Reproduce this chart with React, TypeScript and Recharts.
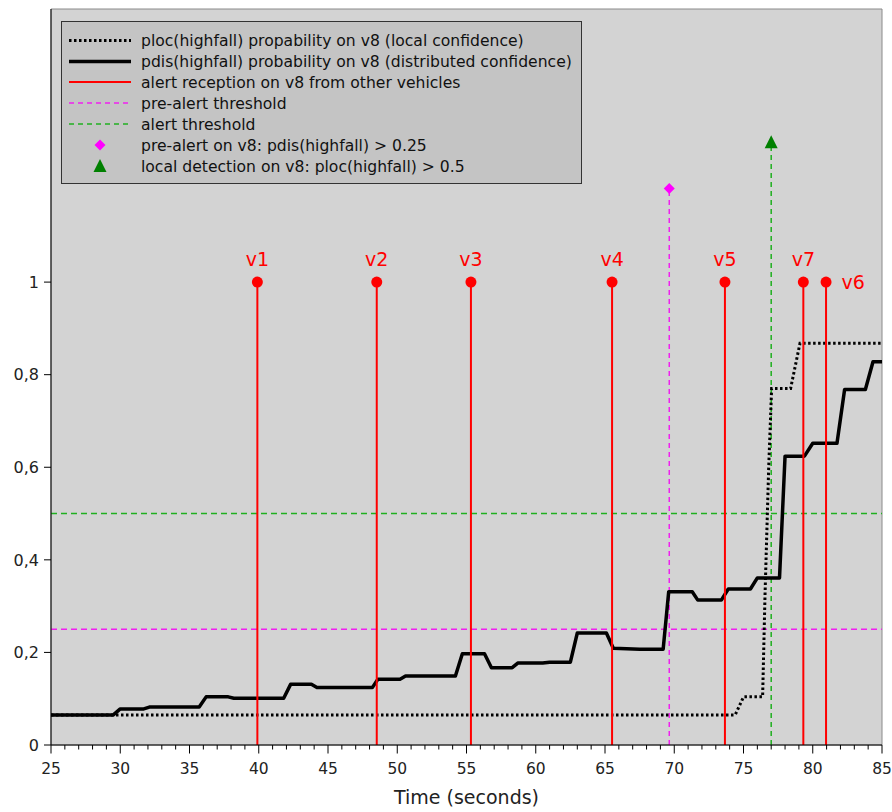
import React from 'react';
import {
  ComposedChart, Line, XAxis, YAxis, ReferenceLine, ReferenceArea, ReferenceDot, Scatter, Label,
} from 'recharts';

// distributed confidence pdis(highfall) on v8
const pdisTimes = [25, 29.5, 30, 31.7, 32.1, 35.7, 36.2, 37.8, 38.2, 41.8, 42.3, 43.8, 44.2, 48.2, 48.6, 50.2, 50.6, 54.2, 54.7, 56.3, 56.8, 58.3, 58.7, 60.5, 61, 62.5, 63, 65.1, 65.6, 67.5, 69.2, 69.6, 71.3, 71.7, 73.4, 73.9, 75.5, 76.0, 77.6, 78.0, 79.4, 80.0, 81.75, 82.3, 83.8, 84.35, 85];
const pdisValues = [0.065, 0.065, 0.078, 0.078, 0.082, 0.082, 0.104, 0.104, 0.101, 0.101, 0.131, 0.131, 0.124, 0.124, 0.142, 0.142, 0.149, 0.149, 0.197, 0.197, 0.167, 0.167, 0.177, 0.177, 0.179, 0.179, 0.242, 0.242, 0.209, 0.207, 0.207, 0.331, 0.331, 0.313, 0.313, 0.337, 0.337, 0.361, 0.361, 0.624, 0.624, 0.652, 0.652, 0.768, 0.768, 0.828, 0.828];

// local confidence ploc(highfall) on v8
const plocTimes = [25, 74.4, 75.0, 76.38, 76.55, 76.82, 77.03, 78.4, 79.08, 85];
const plocValues = [0.065, 0.065, 0.104, 0.104, 0.32, 0.6, 0.77, 0.77, 0.868, 0.868];

// alert receptions from other vehicles
const alertTimes = [39.9, 48.52, 55.32, 65.51, 73.66, 79.32, 80.96];
const alertLabels = ['v1', 'v2', 'v3', 'v4', 'v5', 'v7', 'v6'];
const alertLevel = 1;

// thresholds and events
const preAlertThreshold = 0.25;
const alertThreshold = 0.5;
const preAlertEvent = { x: 69.64, y: 1.202 };
const localDetectionEvent = { x: 77.0, y: 1.302 };

const xTicks = Array.from({ length: 61 }, (_, i) => 25 + i);
const yTicks = [0, 0.2, 0.4, 0.6, 0.8, 1];

const pdisData = pdisTimes.map((x, i) => ({ x, y: pdisValues[i] }));
const plocData = plocTimes.map((x, i) => ({ x, y: plocValues[i] }));

const RED = '#ff0000';
const MAGENTA = '#f020f0';
const GREEN = '#20b020';

const XTick = (props: any) => {
  const { x, y, payload } = props;
  const v = payload.value;
  const major = v % 5 === 0;
  return (
    <g>
      <line x1={x} y1={y} x2={x} y2={y + (major ? 8.5 : 4.5)} stroke="#000" strokeWidth={1} />
      {major && (
        <text x={x} y={y + 29} textAnchor="middle" fontSize={15.5} fill="#222" fontFamily="DejaVu Sans">
          {v}
        </text>
      )}
    </g>
  );
};

const Diamond = (props: any) => {
  const { cx, cy } = props;
  const r = 5.5;
  return <path d={`M${cx},${cy - r}L${cx + r},${cy}L${cx},${cy + r}L${cx - r},${cy}Z`} fill="#ff00ff" />;
};

const Triangle = (props: any) => {
  const { cx, cy } = props;
  return <path d={`M${cx},${cy - 7}L${cx + 6.5},${cy + 6}L${cx - 6.5},${cy + 6}Z`} fill="#008000" />;
};

const legendRows = [
  'ploc(highfall) propability on v8 (local confidence)',
  'pdis(highfall) probability on v8 (distributed confidence)',
  'alert reception on v8 from other vehicles',
  'pre-alert threshold',
  'alert threshold',
  'pre-alert on v8: pdis(highfall) > 0.25',
  'local detection on v8: ploc(highfall) > 0.5',
];
const legendY = [40.5, 61.5, 82, 103, 124, 145, 166];

const LegendBox = () => (
  <svg width={892} height={812} style={{ position: 'absolute', left: 0, top: 0, pointerEvents: 'none' }}>
    <rect x={61.5} y={21.5} width={520} height={162} fill="#c4c4c4" stroke="#333" strokeWidth={1} />
    <line x1={69} x2={131} y1={legendY[0]} y2={legendY[0]} stroke="#000" strokeWidth={3} strokeDasharray="2.5 2.5" />
    <line x1={69} x2={131} y1={legendY[1]} y2={legendY[1]} stroke="#000" strokeWidth={3.5} />
    <line x1={69} x2={131} y1={legendY[2]} y2={legendY[2]} stroke={RED} strokeWidth={2} />
    <line x1={69} x2={131} y1={legendY[3]} y2={legendY[3]} stroke={MAGENTA} strokeWidth={1.3} strokeDasharray="5 4" />
    <line x1={69} x2={131} y1={legendY[4]} y2={legendY[4]} stroke={GREEN} strokeWidth={1.3} strokeDasharray="5 4" />
    <Diamond cx={100} cy={legendY[5]} />
    <Triangle cx={100} cy={legendY[6]} />
    {legendRows.map((t, i) => (
      <text key={i} x={141} y={legendY[i]} dy="0.36em" fontSize={15.6} fill="#111" fontFamily="DejaVu Sans">
        {t}
      </text>
    ))}
  </svg>
);

export default function App() {
  return (
    <div style={{ position: 'absolute', left: 0, top: 0, width: 892, height: 812, background: '#fff' }}>
      <ComposedChart width={892} height={812} margin={{ top: 9, right: 10, bottom: 0, left: 0 }} style={{ fontFamily: 'DejaVu Sans' }}>
        <XAxis
          dataKey="x"
          type="number"
          domain={[25, 85]}
          ticks={xTicks}
          interval={0}
          tickLine={false}
          tickSize={0}
          tickMargin={0}
          tick={<XTick />}
          height={67}
          axisLine={{ stroke: '#000' }}
        >
          <Label value="Time (seconds)" position="insideBottom" offset={8} style={{ fontSize: 19, fill: '#222', fontFamily: 'DejaVu Sans' }} />
        </XAxis>
        <YAxis
          type="number"
          domain={[0, 1.59]}
          ticks={yTicks}
          width={51}
          tickSize={7}
          tickMargin={5}
          tickFormatter={(v: number) => String(v).replace('.', ',')}
          tick={{ fontSize: 16, fill: '#222', fontFamily: 'DejaVu Sans' }}
          tickLine={{ stroke: '#000' }}
          axisLine={{ stroke: '#000' }}
          allowDataOverflow
        />
        <ReferenceArea x1={25} x2={85} y1={0} y2={1.59} fill="#d3d3d3" fillOpacity={1} stroke="#8a8a8a" strokeWidth={1} />
        <ReferenceLine y={preAlertThreshold} stroke={MAGENTA} strokeWidth={1.4} strokeDasharray="6 4" />
        <ReferenceLine y={alertThreshold} stroke={GREEN} strokeWidth={1.6} strokeDasharray="6 4" />
        <ReferenceLine segment={[{ x: preAlertEvent.x, y: 0 }, { x: preAlertEvent.x, y: preAlertEvent.y }]} stroke={MAGENTA} strokeWidth={1.5} strokeDasharray="5 4" />
        <ReferenceLine segment={[{ x: localDetectionEvent.x, y: 0 }, { x: localDetectionEvent.x, y: localDetectionEvent.y }]} stroke={GREEN} strokeWidth={1.5} strokeDasharray="5 4" />
        <Line data={plocData} dataKey="y" type="linear" stroke="#000" strokeWidth={3} strokeDasharray="2.5 2.5" dot={false} isAnimationActive={false} />
        <Line data={pdisData} dataKey="y" type="linear" stroke="#000" strokeWidth={3.5} strokeLinejoin="round" dot={false} isAnimationActive={false} />
        {alertTimes.map((t, i) => (
          <ReferenceLine key={`al${i}`} segment={[{ x: t, y: 0 }, { x: t, y: alertLevel }]} stroke={RED} strokeWidth={2} />
        ))}
        {alertTimes.map((t, i) => (
          <ReferenceDot
            key={`ad${i}`}
            x={t}
            y={alertLevel}
            r={5.5}
            fill={RED}
            stroke="none"
            label={
              alertLabels[i] === 'v6'
                ? { value: alertLabels[i], position: 'right', offset: 10, fill: RED, fontSize: 19 }
                : { value: alertLabels[i], position: 'top', offset: 11, fill: RED, fontSize: 19 }
            }
          />
        ))}
        <Scatter data={[preAlertEvent]} dataKey="y" shape={<Diamond />} isAnimationActive={false} />
        <Scatter data={[localDetectionEvent]} dataKey="y" shape={<Triangle />} isAnimationActive={false} />
      </ComposedChart>
      <LegendBox />
    </div>
  );
}
